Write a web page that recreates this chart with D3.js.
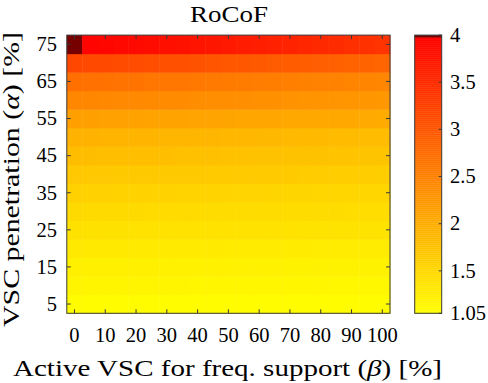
<!DOCTYPE html>
<html>
<head>
<meta charset="utf-8">
<script src="https://cdn.jsdelivr.net/npm/d3@7"></script>
<style>
  body { margin: 0; background: #fff; }
  svg text { font-family: "Liberation Serif", "DejaVu Serif", serif; fill: #000; }
</style>
</head>
<body>
<svg id="chart" width="488" height="383"></svg>
<script>
// beta (columns) and alpha (rows) values, in %
const betaVals = [0, 5, 10, 15, 20, 25, 30, 35, 40, 45, 50, 55, 60, 65, 70, 75, 80, 85, 90, 95, 100];
const alphaVals = [5, 10, 15, 20, 25, 30, 35, 40, 45, 50, 55, 60, 65, 70, 75];
const xTicks = [0, 10, 20, 30, 40, 50, 60, 70, 80, 90, 100];
const yTicks = [5, 15, 25, 35, 45, 55, 65, 75];
const cbTicks = [1.05, 1.5, 2, 2.5, 3, 3.5, 4];

// RoCoF values, one row per alpha (5 .. 75)
const rocof = [
  [1.09, 1.09, 1.09, 1.09, 1.09, 1.09, 1.09, 1.09, 1.09, 1.09, 1.09, 1.09, 1.08, 1.08, 1.08, 1.08, 1.08, 1.08, 1.08, 1.08, 1.08],
  [1.16, 1.16, 1.16, 1.16, 1.16, 1.16, 1.16, 1.16, 1.15, 1.15, 1.15, 1.15, 1.15, 1.15, 1.15, 1.15, 1.15, 1.14, 1.14, 1.14, 1.14],
  [1.22, 1.22, 1.22, 1.22, 1.22, 1.22, 1.21, 1.21, 1.21, 1.21, 1.21, 1.21, 1.21, 1.21, 1.20, 1.20, 1.20, 1.20, 1.20, 1.20, 1.20],
  [1.30, 1.30, 1.30, 1.30, 1.29, 1.29, 1.29, 1.29, 1.29, 1.29, 1.28, 1.28, 1.28, 1.28, 1.28, 1.28, 1.27, 1.27, 1.27, 1.27, 1.27],
  [1.40, 1.40, 1.40, 1.40, 1.39, 1.39, 1.39, 1.39, 1.39, 1.38, 1.38, 1.38, 1.38, 1.38, 1.38, 1.37, 1.37, 1.37, 1.37, 1.37, 1.37],
  [1.48, 1.48, 1.48, 1.48, 1.48, 1.47, 1.47, 1.47, 1.47, 1.46, 1.46, 1.46, 1.46, 1.45, 1.45, 1.45, 1.45, 1.45, 1.44, 1.44, 1.44],
  [1.58, 1.58, 1.58, 1.57, 1.57, 1.57, 1.57, 1.56, 1.56, 1.56, 1.55, 1.55, 1.55, 1.54, 1.54, 1.54, 1.53, 1.53, 1.53, 1.52, 1.52],
  [1.69, 1.69, 1.69, 1.68, 1.68, 1.68, 1.67, 1.67, 1.67, 1.66, 1.66, 1.66, 1.65, 1.65, 1.65, 1.64, 1.64, 1.63, 1.63, 1.63, 1.62],
  [1.81, 1.81, 1.80, 1.80, 1.80, 1.79, 1.79, 1.78, 1.78, 1.78, 1.77, 1.77, 1.76, 1.76, 1.76, 1.75, 1.75, 1.74, 1.74, 1.73, 1.73],
  [1.93, 1.93, 1.92, 1.92, 1.91, 1.91, 1.90, 1.90, 1.89, 1.89, 1.88, 1.88, 1.87, 1.87, 1.86, 1.85, 1.85, 1.84, 1.84, 1.83, 1.82],
  [2.15, 2.15, 2.14, 2.14, 2.13, 2.12, 2.12, 2.11, 2.10, 2.10, 2.09, 2.08, 2.08, 2.07, 2.06, 2.06, 2.05, 2.04, 2.04, 2.03, 2.02],
  [2.44, 2.44, 2.43, 2.42, 2.41, 2.40, 2.39, 2.38, 2.37, 2.36, 2.35, 2.34, 2.33, 2.32, 2.31, 2.30, 2.29, 2.28, 2.27, 2.26, 2.25],
  [2.70, 2.69, 2.68, 2.67, 2.66, 2.64, 2.63, 2.62, 2.61, 2.59, 2.58, 2.57, 2.55, 2.54, 2.53, 2.51, 2.50, 2.49, 2.47, 2.46, 2.45],
  [3.18, 3.16, 3.15, 3.13, 3.12, 3.10, 3.08, 3.07, 3.05, 3.03, 3.01, 2.99, 2.97, 2.95, 2.94, 2.92, 2.90, 2.88, 2.86, 2.85, 2.83],
  [4.25, 3.95, 3.93, 3.91, 3.88, 3.86, 3.83, 3.80, 3.77, 3.74, 3.71, 3.68, 3.65, 3.62, 3.59, 3.56, 3.53, 3.50, 3.46, 3.43, 3.40]
];

const cMin = 1.05, cMax = 4;
const topColor = "rgb(118,0,0)";

const svg = d3.select("#chart");
const plot = { left: 66.8, right: 390, top: 35.1, bottom: 313.3 };

const x = d3.scaleLinear().domain([-2.5, 102.5]).range([plot.left, plot.right]);
const y = d3.scaleLinear().domain([2.5, 77.5]).range([plot.bottom, plot.top]);

// yellow -> red, last colormap slot dark red (values clipped at the top)
const ramp = d3.scaleLinear().domain([cMin, cMax]).range(["rgb(255,255,0)", "rgb(255,0,0)"]).clamp(true);
function colorOf(v) {
    return v >= cMax - 0.02 ? topColor : ramp(v);
}

// cells
const cells = [];
alphaVals.forEach((a, i) => {
    betaVals.forEach((b, j) => cells.push({ a, b, v: rocof[i][j] }));
});
const cw = x(5) - x(0), ch = y(0) - y(5);
svg.append("g").selectAll("rect").data(cells).join("rect")
    .attr("x", d => x(d.b) - cw / 2)
    .attr("y", d => y(d.a) - ch / 2)
    .attr("width", cw + 0.5)
    .attr("height", ch + 0.5)
    .attr("fill", d => colorOf(d.v));

// axes box and inward ticks
const axisColor = "#3a3a3a";
const tickLen = 4;
const tickFont = 20.5;
const g = svg.append("g");
g.append("rect")
    .attr("x", plot.left).attr("y", plot.top)
    .attr("width", plot.right - plot.left).attr("height", plot.bottom - plot.top)
    .attr("fill", "none").attr("stroke", axisColor).attr("stroke-width", 1);

xTicks.forEach(t => {
    g.append("line").attr("x1", x(t)).attr("x2", x(t))
        .attr("y1", plot.bottom).attr("y2", plot.bottom - tickLen)
        .attr("stroke", axisColor);
    g.append("line").attr("x1", x(t)).attr("x2", x(t))
        .attr("y1", plot.top).attr("y2", plot.top + tickLen)
        .attr("stroke", axisColor);
    g.append("text").attr("x", x(t)).attr("y", 342)
        .attr("text-anchor", "middle").attr("font-size", tickFont)
        .text(t);
});
yTicks.forEach(t => {
    g.append("line").attr("x1", plot.left).attr("x2", plot.left + tickLen)
        .attr("y1", y(t)).attr("y2", y(t)).attr("stroke", axisColor);
    g.append("line").attr("x1", plot.right).attr("x2", plot.right - tickLen)
        .attr("y1", y(t)).attr("y2", y(t)).attr("stroke", axisColor);
    g.append("text").attr("x", 57).attr("y", y(t))
        .attr("dy", "0.33em")
        .attr("text-anchor", "end").attr("font-size", tickFont)
        .text(t);
});

// title and labels
svg.append("text").attr("x", 229).attr("y", 22)
    .attr("text-anchor", "middle").attr("font-size", 22.5)
    .attr("textLength", 78).attr("lengthAdjust", "spacingAndGlyphs")
    .text("RoCoF");

const xl = svg.append("text").attr("x", 227.5).attr("y", 376)
    .attr("text-anchor", "middle").attr("font-size", 23)
    .attr("textLength", 429).attr("lengthAdjust", "spacingAndGlyphs");
xl.append("tspan").text("Active VSC for freq. support (");
xl.append("tspan").attr("font-style", "italic").text("β");
xl.append("tspan").text(") [%]");

const yl = svg.append("text")
    .attr("transform", `translate(18.5,179.5) rotate(-90)`)
    .attr("text-anchor", "middle").attr("font-size", 23)
    .attr("textLength", 295).attr("lengthAdjust", "spacingAndGlyphs");
yl.append("tspan").text("VSC penetration (");
yl.append("tspan").attr("font-style", "italic").text("α");
yl.append("tspan").text(") [%]");

// colorbar
const cb = { left: 414.7, right: 441.7 };
const cy = d3.scaleLinear().domain([cMin, cMax]).range([plot.bottom, plot.top]);
const nStrips = 139;
const strips = d3.range(nStrips).map(k => cMin + (k + 0.5) * (cMax - cMin) / nStrips);
const stripH = (plot.bottom - plot.top) / nStrips;
svg.append("g").selectAll("rect").data(strips).join("rect")
    .attr("x", cb.left)
    .attr("y", d => cy(d) - stripH / 2)
    .attr("width", cb.right - cb.left)
    .attr("height", stripH + 0.4)
    .attr("fill", d => colorOf(d));
svg.append("rect")
    .attr("x", cb.left).attr("y", plot.top)
    .attr("width", cb.right - cb.left).attr("height", plot.bottom - plot.top)
    .attr("fill", "none").attr("stroke", axisColor);
cbTicks.forEach(t => {
    svg.append("line").attr("x1", cb.right).attr("x2", cb.right - 3)
        .attr("y1", cy(t)).attr("y2", cy(t)).attr("stroke", axisColor);
    svg.append("text").attr("x", 450).attr("y", cy(t)).attr("dy", "0.33em")
        .attr("font-size", tickFont).text(t);
});
</script>
</body>
</html>
